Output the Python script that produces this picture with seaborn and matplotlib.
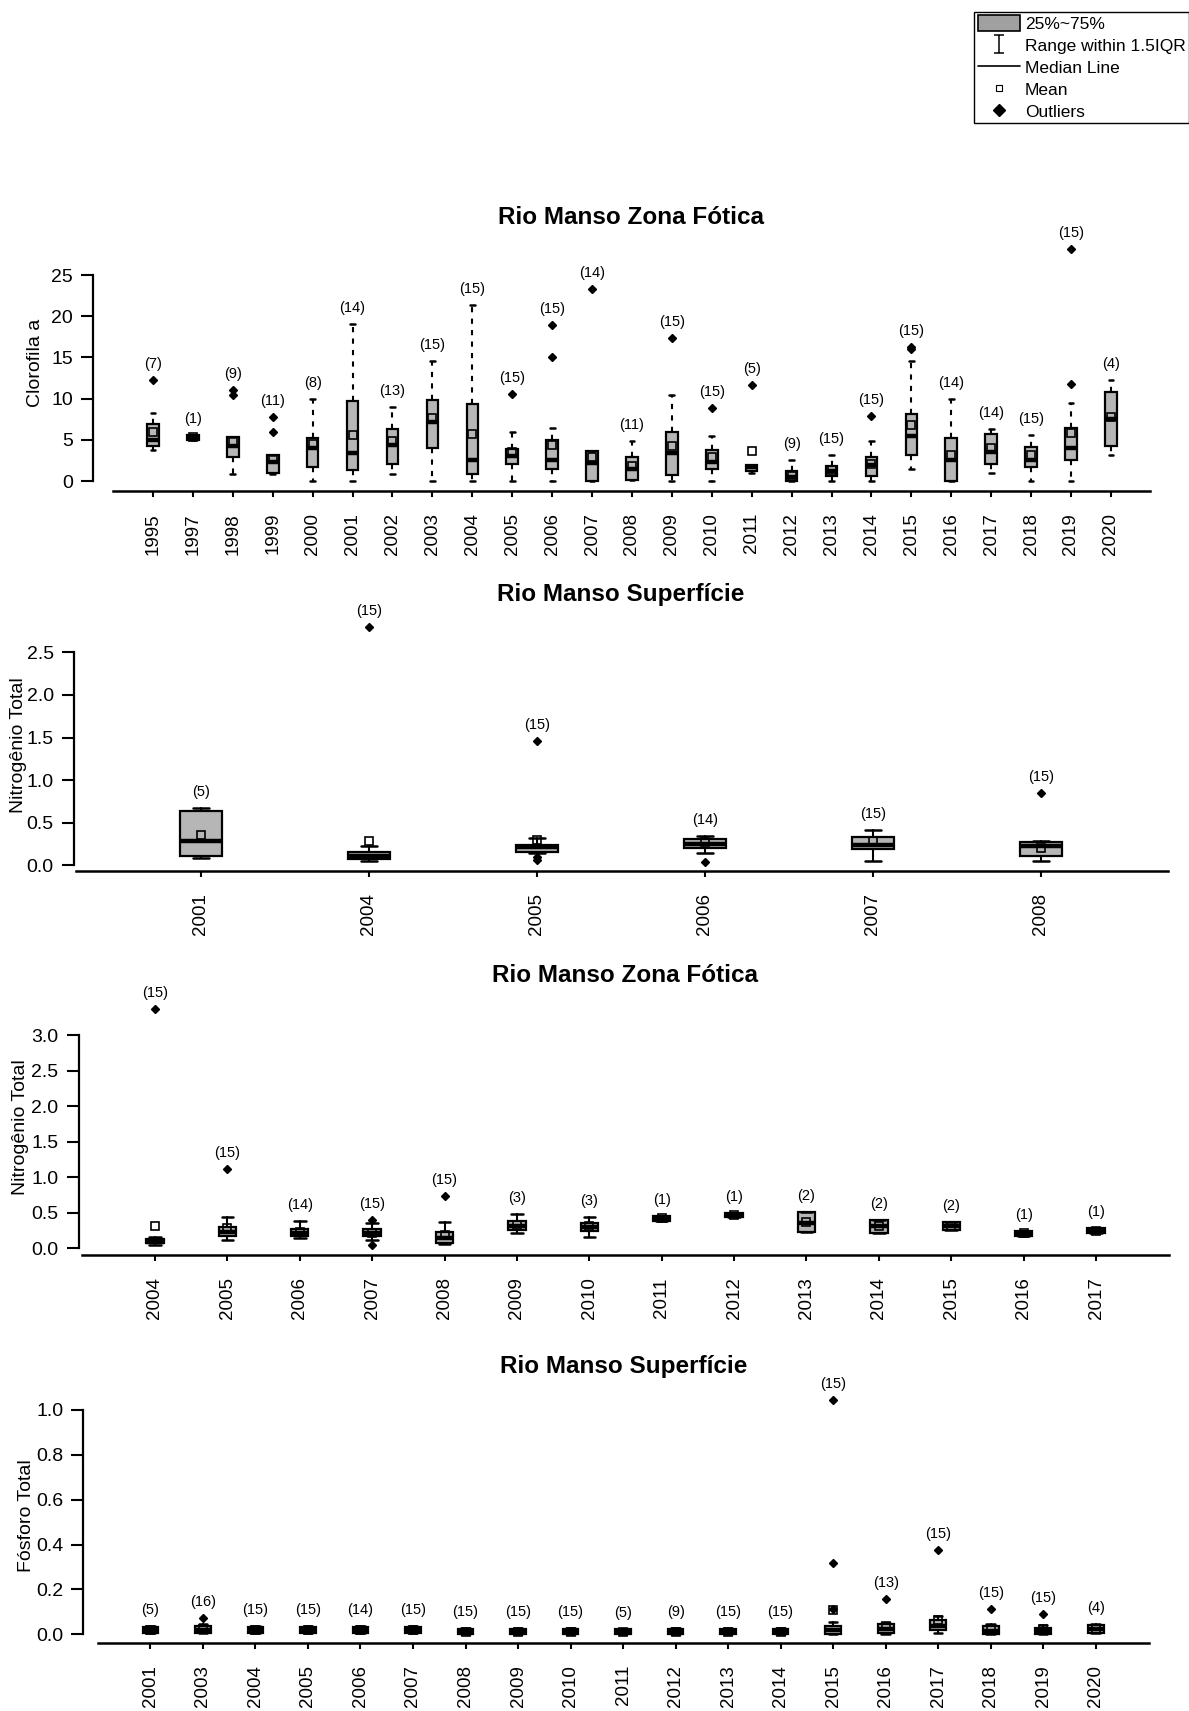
import numpy as np
import matplotlib
matplotlib.use("Agg")
import matplotlib.pyplot as plt
from matplotlib.path import Path
from matplotlib.patches import Patch
from matplotlib.lines import Line2D
import seaborn as sns

# ---------------- data ----------------
# Panel 1: Clorofila a - Rio Manso Zona Fótica
years1 = [1995, 1997, 1998, 1999, 2000, 2001, 2002, 2003, 2004, 2005, 2006, 2007, 2008,
          2009, 2010, 2011, 2012, 2013, 2014, 2015, 2016, 2017, 2018, 2019, 2020]
n1 = [7, 1, 9, 11, 8, 14, 13, 15, 15, 15, 15, 14, 11, 15, 15, 5, 9, 15, 15, 15, 14, 14, 15, 15, 4]
q1_1 = [4.3, 5.0, 2.9, 1.0, 1.7, 1.3, 2.1, 4.0, 0.9, 2.1, 1.5, 0.0, 0.1, 0.7, 1.4, 1.25, 0.0, 0.6, 0.6, 3.2, 0.0, 2.1, 1.7, 2.6, 4.2]
med1 = [5.0, 5.3, 4.2, 2.3, 4.0, 3.4, 4.4, 7.2, 2.5, 3.0, 2.6, 2.2, 1.5, 3.4, 2.3, 1.7, 0.5, 1.25, 1.9, 5.5, 2.5, 3.5, 2.6, 4.0, 7.5]
q3_1 = [6.9, 5.6, 5.4, 3.2, 5.2, 9.7, 6.3, 9.8, 9.4, 3.9, 5.0, 3.6, 2.9, 6.0, 3.8, 2.0, 1.2, 1.8, 2.9, 8.1, 5.2, 5.7, 4.1, 6.4, 10.8]
lo1 = [3.8, 5.0, 0.8, 0.9, 0.0, 0.0, 0.9, 0.0, 0.0, 0.0, 0.0, 0.0, 0.1, 0.0, 0.0, 1.0, 0.0, 0.0, 0.0, 1.5, 0.0, 1.0, 0.0, 0.0, 3.2]
hi1 = [8.2, 5.6, 5.4, 3.2, 10.0, 19.0, 9.0, 14.6, 21.4, 5.9, 6.4, 3.6, 4.8, 10.4, 5.5, 2.0, 2.6, 3.1, 4.8, 14.6, 10.0, 6.3, 5.6, 9.5, 12.3]
mean1 = [6.0, 5.3, 4.9, 2.7, 4.5, 5.6, 4.8, 7.7, 5.7, 3.5, 4.4, 2.9, 1.8, 4.2, 2.9, 3.6, 0.65, 1.3, 2.1, 6.8, 3.2, 4.0, 3.2, 5.8, 7.8]
out1 = [[12.3], [], [10.4, 11.0], [5.9, 7.8], [], [], [], [], [], [10.6], [15.0, 18.9], [23.3], [],
        [17.4], [8.9], [11.7], [], [], [7.9], [16.0, 16.3], [], [], [], [11.8, 28.1], []]

# Panel 2: Nitrogênio Total - Rio Manso Superfície
years2 = [2001, 2004, 2005, 2006, 2007, 2008]
n2 = [5, 15, 15, 14, 15, 15]
q1_2 = [0.11, 0.07, 0.16, 0.20, 0.19, 0.11]
med2 = [0.28, 0.11, 0.21, 0.25, 0.24, 0.23]
q3_2 = [0.64, 0.16, 0.24, 0.31, 0.33, 0.27]
lo2 = [0.08, 0.045, 0.14, 0.14, 0.05, 0.05]
hi2 = [0.67, 0.23, 0.32, 0.34, 0.42, 0.29]
mean2 = [0.36, 0.29, 0.30, 0.27, 0.28, 0.20]
out2 = [[], [2.80], [0.06, 0.10, 1.46], [0.04], [], [0.85]]

# Panel 3: Nitrogênio Total - Rio Manso Zona Fótica
years3 = [2004, 2005, 2006, 2007, 2008, 2009, 2010, 2011, 2012, 2013, 2014, 2015, 2016, 2017]
n3 = [15, 15, 14, 15, 15, 3, 3, 1, 1, 2, 2, 2, 1, 1]
q1_3 = [0.07, 0.17, 0.17, 0.18, 0.07, 0.26, 0.24, 0.39, 0.44, 0.23, 0.21, 0.26, 0.18, 0.21]
med3 = [0.09, 0.23, 0.21, 0.22, 0.15, 0.31, 0.30, 0.42, 0.47, 0.36, 0.31, 0.31, 0.21, 0.24]
q3_3 = [0.13, 0.30, 0.27, 0.27, 0.23, 0.39, 0.35, 0.45, 0.50, 0.51, 0.40, 0.37, 0.25, 0.28]
lo3 = [0.05, 0.11, 0.15, 0.12, 0.06, 0.22, 0.16, 0.39, 0.44, 0.23, 0.21, 0.26, 0.18, 0.21]
hi3 = [0.16, 0.44, 0.39, 0.35, 0.37, 0.48, 0.44, 0.45, 0.50, 0.51, 0.40, 0.37, 0.25, 0.28]
mean3 = [0.31, 0.28, 0.23, 0.22, 0.19, 0.33, 0.31, 0.42, 0.47, 0.37, 0.31, 0.31, 0.21, 0.24]
out3 = [[3.36], [1.12], [], [0.05, 0.40], [0.73], [], [], [], [], [], [], [], [], []]

# Panel 4: Fósforo Total - Rio Manso Superfície
years4 = [2001, 2003, 2004, 2005, 2006, 2007, 2008, 2009, 2010, 2011, 2012, 2013, 2014,
          2015, 2016, 2017, 2018, 2019, 2020]
n4 = [5, 16, 15, 15, 14, 15, 15, 15, 15, 5, 9, 15, 15, 15, 13, 15, 15, 15, 4]
q1_4 = [0.008, 0.008, 0.008, 0.008, 0.008, 0.008, 0.0, 0.0, 0.0, 0.0, 0.0, 0.0, 0.0, 0.003, 0.005, 0.02, 0.003, 0.003, 0.006]
med4 = [0.02, 0.02, 0.02, 0.02, 0.02, 0.02, 0.012, 0.012, 0.012, 0.01, 0.012, 0.012, 0.012, 0.02, 0.025, 0.037, 0.015, 0.015, 0.022]
q3_4 = [0.033, 0.035, 0.033, 0.033, 0.033, 0.033, 0.024, 0.024, 0.024, 0.022, 0.024, 0.024, 0.024, 0.037, 0.045, 0.065, 0.035, 0.03, 0.04]
lo4 = [0.008, 0.008, 0.008, 0.008, 0.008, 0.008, 0.0, 0.0, 0.0, 0.0, 0.0, 0.0, 0.0, 0.0, 0.0, 0.007, 0.0, 0.0, 0.006]
hi4 = [0.035, 0.045, 0.035, 0.035, 0.035, 0.035, 0.026, 0.026, 0.026, 0.024, 0.026, 0.026, 0.026, 0.055, 0.05, 0.08, 0.045, 0.04, 0.045]
mean4 = [0.02, 0.025, 0.02, 0.02, 0.02, 0.02, 0.012, 0.012, 0.012, 0.01, 0.012, 0.012, 0.012, 0.11, 0.035, 0.062, 0.025, 0.022, 0.024]
out4 = [[], [0.074], [], [], [], [], [], [], [], [], [], [], [], [0.115, 0.32, 1.045], [0.157], [0.376], [0.111], [0.089], []]

titles = ["Rio Manso Zona Fótica", "Rio Manso Superfície", "Rio Manso Zona Fótica", "Rio Manso Superfície"]
ylabels = ["Clorofila a", "Nitrogênio Total", "Nitrogênio Total", "Fósforo Total"]
legend_labels = ["25%~75%", "Range within 1.5IQR", "Median Line", "Mean", "Outliers"]

# ---------------- style ----------------
sns.set_theme(style="ticks")
plt.rcParams['font.family'] = ['Liberation Sans', 'DejaVu Sans']
plt.rcParams['text.color'] = 'black'
plt.rcParams['axes.labelcolor'] = 'black'
plt.rcParams['xtick.color'] = 'black'
plt.rcParams['ytick.color'] = 'black'

W, H = 1189, 1711
fig = plt.figure(figsize=(W / 100, H / 100), dpi=100)
fig.patch.set_facecolor('white')

layouts = [
    dict(l=113, r=1150, t=275, b=481, ymax=25, step=5, x0=153, x1=1110.9, loff=20, boff=9.7,
         w=0.29, cw=0.12, dashed=True, title=(631, 217), ylab=(36, 363), fmt="{:.0f}"),
    dict(l=76, r=1168, t=652.3, b=865.3, ymax=2.5, step=0.5, x0=201, x1=1041, loff=2, boff=5.4,
         w=0.25, cw=0.1, dashed=False, title=(621, 594), ylab=(19, 745), fmt="{:.1f}"),
    dict(l=82, r=1169, t=1035, b=1248.3, ymax=3.0, step=0.5, x0=155, x1=1096, loff=3.5, boff=6.7,
         w=0.24, cw=0.16, dashed=False, title=(625, 976), ylab=(21, 1127), fmt="{:.1f}"),
    dict(l=97.6, r=1149, t=1410, b=1634.3, ymax=1.0, step=0.2, x0=150.4, x1=1095.7, loff=14.2, boff=8.4,
         w=0.3, cw=0.16, dashed=False, title=(624, 1367), ylab=(27, 1516), fmt="{:.1f}"),
]

datasets = [
    (years1, n1, q1_1, med1, q3_1, lo1, hi1, mean1, out1),
    (years2, n2, q1_2, med2, q3_2, lo2, hi2, mean2, out2),
    (years3, n3, q1_3, med3, q3_3, lo3, hi3, mean3, out3),
    (years4, n4, q1_4, med4, q3_4, lo4, hi4, mean4, out4),
]

px2pt = 72 / 100

for k, (lay, data) in enumerate(zip(layouts, datasets)):
    years, nn, q1, med, q3, lo, hi, mn, outs = data
    ncat = len(years)
    ax = fig.add_axes([lay['l'] / W, 1 - lay['b'] / H, (lay['r'] - lay['l']) / W, (lay['b'] - lay['t']) / H])
    ax.set_facecolor('none')
    ax.grid(False)

    stats = []
    for i in range(ncat):
        stats.append(dict(med=med[i], q1=q1[i], q3=q3[i], whislo=lo[i], whishi=hi[i],
                          mean=mn[i], fliers=np.array(outs[i]), label=str(years[i])))
    ls = (0, (2.5, 3)) if lay['dashed'] else '-'
    arts = ax.bxp(stats, positions=list(range(ncat)), widths=lay['w'], capwidths=lay['cw'],
                  patch_artist=True, showmeans=True, meanline=False, showfliers=True,
                  boxprops=dict(facecolor='#b6b6b6', edgecolor='black', linewidth=1.6),
                  medianprops=dict(color='black', linewidth=3.2),
                  whiskerprops=dict(color='black', linewidth=1.5, linestyle=ls),
                  capprops=dict(color='black', linewidth=1.8),
                  meanprops=dict(marker='s', markerfacecolor='none', markeredgecolor='black',
                                 markeredgewidth=1.2, markersize=6),
                  flierprops=dict(marker='D', markerfacecolor='black', markeredgecolor='black',
                                  markersize=4.5))
    for key in arts:
        for a in arts[key]:
            a.set_clip_on(False)

    sp = (lay['x1'] - lay['x0']) / (ncat - 1)
    ax.set_xlim(-(lay['x0'] - lay['l']) / sp, (ncat - 1) + (lay['r'] - lay['x1']) / sp)
    ax.set_ylim(0, lay['ymax'])

    # spines first (moving a spine resets the ticks)
    sns.despine(ax=ax, offset=dict(left=lay['loff'] * px2pt, bottom=lay['boff'] * px2pt))
    ax.spines['left'].set_bounds(0, lay['ymax'])
    ax.spines['left'].set_linewidth(1.6)
    ax.spines['bottom'].set_linewidth(1.8)
    ax.spines['left'].set_color('black')
    ax.spines['bottom'].set_color('black')

    # sample-size labels
    for i in range(ncat):
        top = max([hi[i], q3[i], mn[i]] + list(outs[i]))
        ax.annotate(f"({nn[i]})", xy=(i, top), xytext=(0, 9), textcoords='offset pixels',
                    ha='center', va='bottom', fontsize=10.5, annotation_clip=False)

    ax.set_xticks(list(range(ncat)))
    ax.set_xticklabels([str(y) for y in years])
    yt = np.round(np.arange(0, lay['ymax'] + 1e-9, lay['step']), 2)
    ax.set_yticks(yt)
    ax.set_yticklabels([lay['fmt'].format(v) for v in yt])
    ax.tick_params(axis='x', length=4, width=1.5, pad=12, direction='out',
                   labelsize=13.5, labelrotation=90)
    ax.tick_params(axis='y', length=8.5, width=1.5, pad=6, direction='out', labelsize=14)

    fig.text(lay['title'][0] / W, 1 - lay['title'][1] / H, titles[k], ha='center', va='center',
             fontsize=17.5, fontweight='bold')
    fig.text(lay['ylab'][0] / W, 1 - lay['ylab'][1] / H, ylabels[k], ha='center', va='center',
             rotation=90, fontsize=14)

# legend
ibeam = Path([(-0.6, -1), (0.6, -1), (0, -1), (0, 1), (-0.6, 1), (0.6, 1)],
             [Path.MOVETO, Path.LINETO, Path.MOVETO, Path.LINETO, Path.MOVETO, Path.LINETO])
handles = [
    Patch(facecolor='#a0a0a0', edgecolor='black', linewidth=1.2),
    Line2D([], [], linestyle='none', marker=ibeam, markersize=13, color='black', markeredgewidth=1.1),
    Line2D([], [], color='black', linewidth=1.2),
    Line2D([], [], linestyle='none', marker='s', markersize=5, markerfacecolor='white',
           markeredgecolor='black', markeredgewidth=0.8),
    Line2D([], [], linestyle='none', marker='D', markersize=6, color='black'),
]
leg = fig.legend(handles, legend_labels, loc='upper right', bbox_to_anchor=(1.0, 1 - 12 / H),
                 fontsize=12.5, frameon=True, fancybox=False, edgecolor='black', framealpha=1,
                 borderaxespad=0, borderpad=0.2, labelspacing=0.3, handlelength=2.4,
                 handletextpad=0.3, handleheight=1.0)
leg.get_frame().set_linewidth(1.0)

fig.savefig("out.png", dpi=100, facecolor='white')
